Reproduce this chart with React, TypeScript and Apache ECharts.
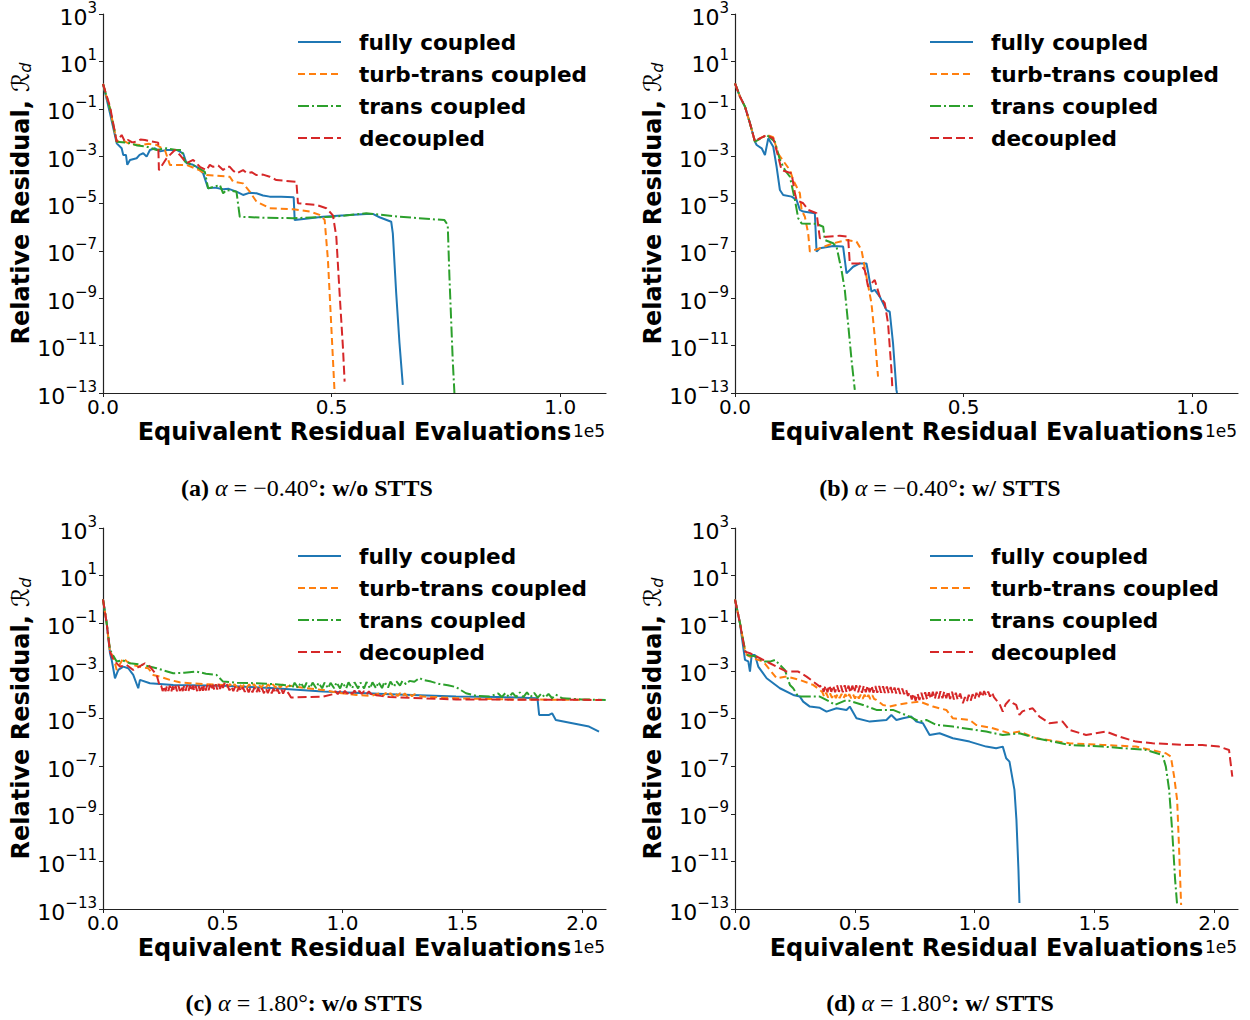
import React, { useEffect, useRef } from "react";
import * as echarts from "echarts";

// Residual histories: x = equivalent residual evaluations, y = log10 of relative residual R_d
const METHODS = ["fully coupled", "turb-trans coupled", "trans coupled", "decoupled"];
const COLORS = ["#1f77b4", "#ff7f0e", "#2ca02c", "#d62728"];
const DASHES: any[] = ["solid", [7, 4], [11, 3, 2, 3], [9, 4]];

const Y_TICKS = [-13, -11, -9, -7, -5, -3, -1, 1, 3];
const X_TICKS_SHORT = [0, 50000, 100000];
const X_TICKS_LONG = [0, 50000, 100000, 150000, 200000];

// (a) alpha = -0.40 deg, w/o STTS
const aFully = [[0,0.05],[1530,-1.19],[3000,-2.46],[4080,-2.67],[4430,-2.95],[5020,-2.95],[5310,-3.37],[5900,-3.16],[7360,-3.09],[8000,-2.95],[8800,-2.88],[9540,-3.02],[10260,-2.74],[11350,-2.67],[12500,-2.8],[13910,-2.74],[16090,-2.74],[17530,-2.88],[18270,-3.30],[19500,-3.35],[20460,-3.45],[21900,-3.73],[22990,-4.36],[24500,-4.33],[26270,-4.40],[27500,-4.38],[29190,-4.50],[30630,-4.64],[32000,-4.55],[33560,-4.57],[35000,-4.66],[36460,-4.71],[39000,-4.72],[41700,-4.74],[41920,-5.70],[48100,-5.56],[53000,-5.5],[57570,-5.44],[59010,-5.44],[60470,-5.58],[63030,-5.77],[63380,-6.26],[64120,-8.79],[64840,-10.9],[65560,-12.66]];
const aTurbTrans = [[0,0.05],[1530,-1.0],[3000,-2.39],[4430,-2.35],[6000,-2.5],[8080,-2.53],[10000,-2.48],[11720,-2.53],[13540,-2.74],[14630,-3.37],[18270,-3.37],[21180,-3.6],[22640,-3.80],[27730,-3.87],[28450,-4.08],[30630,-4.15],[32090,-4.5],[33560,-4.92],[36460,-5.2],[41550,-5.24],[45190,-5.34],[47370,-5.48],[48470,-5.69],[49190,-7.38],[49930,-10.2],[50650,-13.0]];
const aTrans = [[0,0.05],[1530,-1.0],[3000,-2.39],[5900,-2.45],[7500,-2.55],[9540,-2.6],[10630,-2.67],[11720,-2.74],[13910,-2.67],[16090,-2.74],[17180,-2.74],[17900,-3.23],[20460,-3.45],[22270,-3.66],[22990,-4.36],[25550,-4.22],[26270,-4.57],[27000,-4.43],[29190,-4.50],[29910,-5.56],[35000,-5.6],[41550,-5.62],[50280,-5.56],[57570,-5.41],[64840,-5.56],[74670,-5.70],[75390,-5.91],[75760,-8.09],[76480,-11.6],[76850,-13.0]];
const aDecoupled = [[0,0.05],[1530,-0.91],[3000,-2.39],[4080,-2.11],[4800,-2.39],[5520,-2.32],[6400,-2.42],[7360,-2.39],[8200,-2.3],[9170,-2.32],[10500,-2.38],[12070,-2.43],[12230,-3.59],[13910,-3.09],[15720,-2.74],[16810,-2.95],[18270,-3.30],[19720,-3.16],[21180,-3.45],[22640,-3.59],[23360,-3.37],[24080,-3.45],[25200,-3.4],[26270,-3.59],[27000,-3.45],[27730,-3.45],[28500,-3.62],[29190,-3.73],[30630,-3.59],[31500,-3.72],[32500,-3.68],[33560,-3.80],[35000,-3.78],[36460,-3.87],[37920,-4.01],[42290,-4.08],[42640,-4.99],[46660,-5.06],[48840,-5.20],[50280,-5.50],[51020,-6.40],[51740,-8.79],[52460,-11.04],[52840,-12.52]];

// (b) alpha = -0.40 deg, w/ STTS
const bFully = [[0,0.07],[1090,-0.49],[2180,-0.91],[3270,-1.61],[4370,-2.39],[4740,-2.53],[5830,-2.67],[6550,-2.95],[7270,-2.25],[8360,-2.6],[9100,-3.45],[9820,-4.43],[10540,-4.64],[12380,-4.71],[13470,-4.85],[14190,-5.27],[14910,-5.34],[17460,-5.41],[17840,-7.03],[18560,-6.89],[21460,-6.79],[23640,-6.82],[24390,-7.95],[25830,-7.67],[27290,-7.53],[28750,-7.53],[29100,-7.88],[29840,-8.72],[30560,-8.65],[31660,-8.93],[33120,-9.50],[33840,-9.57],[34560,-10.9],[35300,-12.87],[35430,-13.0]];
const bTurbTrans = [[0,0.07],[1090,-0.49],[2180,-0.91],[3270,-1.61],[4370,-2.39],[4740,-2.32],[6920,-2.11],[8360,-2.2],[9450,-2.9],[10920,-3.3],[12010,-3.59],[12730,-4.01],[14190,-4.57],[14560,-5.27],[15280,-5.56],[16000,-6.26],[16370,-7.03],[18560,-6.89],[21460,-6.68],[24390,-6.54],[26570,-6.61],[27660,-6.96],[28750,-8.09],[29840,-9.21],[30560,-10.62],[31280,-12.31]];
const bTrans = [[0,0.07],[1090,-0.49],[2180,-0.91],[3270,-1.61],[4370,-2.39],[6920,-2.11],[8730,-2.39],[9820,-3.16],[10920,-3.59],[12010,-3.87],[13100,-4.85],[13820,-5.62],[14560,-5.84],[17840,-5.86],[19280,-5.98],[19650,-6.54],[21460,-6.68],[22200,-6.82],[23290,-7.81],[24010,-8.65],[24730,-10.06],[25480,-11.6],[26200,-12.87]];
const bDecoupled = [[0,0.07],[1090,-0.49],[2180,-0.91],[3270,-1.61],[4370,-2.39],[4740,-2.32],[6920,-2.11],[8360,-2.25],[9450,-3.02],[10190,-3.59],[11290,-3.66],[12380,-3.73],[13100,-4.57],[13470,-4.85],[14910,-4.99],[16000,-5.27],[17840,-5.41],[18560,-6.47],[20020,-6.40],[22920,-6.36],[24730,-6.40],[25100,-7.53],[27290,-7.53],[28380,-7.81],[29100,-8.51],[30560,-8.23],[31660,-8.93],[32750,-9.21],[33470,-10.06],[34210,-12.03],[34430,-12.87]];

// (c) alpha = 1.80 deg, w/o STTS
const cFully = [[0,0],[1540,-1.0],[2920,-2.26],[3630,-2.54],[5000,-3.31],[6380,-2.96],[8460,-2.82],[10540,-2.89],[12630,-3.17],[14710,-3.73],[15420,-3.38],[19580,-3.52],[29290,-3.59],[50130,-3.62],[70000,-3.72],[91800,-3.87],[120000,-3.98],[147380,-4.08],[165000,-4.1],[181380,-4.15],[182090,-4.85],[186250,-4.85],[187500,-4.78],[189040,-5.06],[195960,-5.20],[202920,-5.34],[207090,-5.55]];
const cTurbTrans = [[0,0],[1540,-1.0],[2920,-2.2],[4290,-2.40],[5710,-2.96],[8460,-2.47],[9880,-2.6],[12630,-2.75],[15000,-2.82],[18880,-2.89],[20960,-3.17],[24000,-3.25],[27920,-3.38],[32000,-3.48],[36250,-3.52],[43000,-3.56],[50130,-3.59],[51000,-3.54],[52000,-3.68],[53000,-3.55],[54000,-3.69],[55000,-3.56],[56000,-3.7],[57000,-3.56],[58000,-3.7],[59000,-3.57],[60000,-3.71],[61000,-3.56],[62000,-3.7],[63000,-3.55],[64000,-3.69],[65000,-3.56],[66000,-3.7],[67000,-3.57],[68000,-3.7],[69000,-3.56],[70000,-3.7],[71000,-3.57],[72000,-3.71],[73000,-3.56],[74000,-3.7],[75000,-3.57],[76000,-3.7],[77900,-3.62],[84000,-3.72],[91800,-3.8],[98000,-3.92],[105700,-4.01],[112000,-4.05],[116000,-3.93],[117000,-4.05],[118000,-3.92],[119000,-4.05],[120000,-3.93],[121000,-4.06],[122000,-3.93],[123000,-4.06],[124000,-3.94],[125000,-4.06],[126000,-3.95],[127000,-4.07],[128000,-3.96],[129000,-4.07],[130000,-3.98],[133470,-4.08],[147380,-4.15],[170000,-4.2],[209600,-4.22]];
const cTrans = [[0,0],[1540,-1.0],[2920,-2.12],[5710,-2.61],[8000,-2.55],[11250,-2.68],[16790,-2.75],[22380,-2.89],[29290,-3.10],[34000,-3.08],[39040,-3.03],[43000,-3.12],[47380,-3.17],[50130,-3.45],[56000,-3.5],[64050,-3.52],[72000,-3.56],[77920,-3.62],[79000,-3.72],[80000,-3.5],[81500,-3.72],[82500,-3.49],[84000,-3.72],[85000,-3.5],[86500,-3.72],[87500,-3.49],[89000,-3.73],[90000,-3.5],[91500,-3.73],[92500,-3.49],[94000,-3.73],[95000,-3.5],[96500,-3.73],[97500,-3.48],[99000,-3.74],[100000,-3.49],[101500,-3.74],[102500,-3.48],[104000,-3.74],[105000,-3.48],[106500,-3.74],[107500,-3.49],[109000,-3.74],[110000,-3.47],[111500,-3.74],[112500,-3.48],[114000,-3.73],[115000,-3.47],[116500,-3.72],[117500,-3.46],[119000,-3.7],[120000,-3.45],[121500,-3.67],[122500,-3.44],[124000,-3.62],[125000,-3.42],[126500,-3.56],[128000,-3.42],[130000,-3.46],[132090,-3.3],[133470,-3.38],[137000,-3.45],[140420,-3.55],[144000,-3.6],[147380,-3.68],[151540,-3.94],[156000,-4.05],[161250,-4.08],[165000,-3.95],[166500,-4.1],[168000,-3.93],[169500,-4.1],[171000,-3.92],[172500,-4.1],[174000,-3.9],[175500,-4.1],[177000,-3.9],[178500,-4.1],[180000,-3.92],[181500,-4.12],[183000,-3.95],[184500,-4.12],[186000,-3.97],[187500,-4.15],[189000,-4.0],[191790,-4.15],[200000,-4.2],[209880,-4.22]];
const cDecoupled = [[0,0],[1540,-1.0],[2920,-2.19],[4290,-2.54],[7080,-2.82],[9880,-2.75],[12630,-2.96],[17500,-2.68],[19580,-2.82],[22380,-3.17],[23750,-3.66],[24300,-3.62],[24900,-3.85],[25500,-3.63],[26100,-3.86],[26700,-3.64],[27300,-3.84],[27900,-3.62],[28500,-3.87],[29100,-3.65],[29700,-3.85],[30300,-3.63],[30900,-3.86],[31500,-3.62],[32100,-3.84],[32700,-3.64],[33300,-3.85],[33900,-3.62],[34500,-3.83],[35100,-3.6],[35700,-3.84],[36300,-3.62],[36900,-3.85],[37500,-3.61],[38100,-3.84],[38700,-3.63],[39300,-3.85],[39900,-3.62],[40500,-3.84],[41100,-3.6],[41700,-3.83],[42300,-3.6],[42900,-3.82],[43500,-3.59],[44100,-3.81],[44700,-3.58],[45300,-3.8],[45900,-3.58],[46500,-3.8],[47100,-3.56],[47700,-3.78],[48300,-3.55],[48900,-3.76],[49500,-3.52],[50100,-3.72],[51000,-3.45],[52000,-3.62],[52800,-3.82],[53600,-3.65],[54400,-3.85],[55200,-3.66],[56000,-3.86],[56800,-3.67],[57600,-3.87],[58400,-3.68],[59200,-3.88],[60000,-3.7],[60800,-3.9],[61600,-3.7],[62400,-3.9],[63200,-3.7],[64000,-3.92],[64800,-3.72],[65600,-3.92],[66400,-3.74],[67200,-3.94],[68000,-3.73],[68800,-3.93],[69600,-3.74],[70400,-3.94],[71200,-3.75],[72000,-3.94],[72800,-3.76],[73600,-3.95],[74400,-3.76],[75200,-3.95],[76000,-3.77],[77500,-3.95],[78500,-4.12],[85000,-4.1],[91800,-4.08],[96000,-3.98],[97000,-3.85],[98000,-3.98],[99000,-3.85],[100000,-3.98],[101000,-3.84],[102000,-3.97],[103000,-3.84],[104000,-3.97],[105000,-3.83],[106000,-3.97],[107000,-3.84],[108000,-3.97],[109000,-3.85],[110000,-3.98],[111000,-3.86],[112000,-3.99],[113000,-3.9],[114000,-4.02],[116000,-4.05],[119600,-4.1],[133500,-4.15],[147400,-4.2],[208300,-4.22]];

// (d) alpha = 1.80 deg, w/ STTS
const dFully = [[0,0],[2080,-1.0],[4170,-2.54],[5540,-2.6],[6250,-3.03],[6960,-2.33],[8330,-2.33],[9710,-2.82],[13210,-3.31],[18750,-3.73],[24290,-4.01],[27090,-4.08],[28460,-4.29],[31250,-4.50],[35420,-4.55],[38210,-4.71],[42380,-4.57],[46550,-4.64],[47920,-4.50],[50710,-4.99],[56250,-5.13],[63210,-5.06],[65290,-4.85],[67380,-5.06],[70130,-4.99],[73630,-4.92],[75710,-5.13],[78460,-5.20],[81250,-5.69],[85420,-5.62],[90960,-5.83],[97920,-5.97],[104880,-6.18],[109040,-6.25],[111800,-6.18],[113210,-6.67],[114590,-6.81],[116670,-8.0],[117500,-9.26],[118340,-11.36],[118750,-12.75]];
const dTurbTrans = [[0,0],[2080,-1.0],[4170,-2.12],[4880,-2.33],[7630,-2.47],[11790,-2.61],[14580,-2.96],[17380,-3.31],[21540,-3.24],[27090,-3.38],[32630,-3.59],[35420,-3.80],[36500,-3.9],[37300,-4.1],[38100,-3.92],[38900,-4.12],[39700,-3.95],[40500,-4.13],[41300,-3.96],[42100,-4.14],[42900,-3.96],[43700,-4.14],[44500,-3.97],[45300,-4.15],[46100,-3.98],[46900,-4.15],[47700,-3.98],[48500,-4.15],[49300,-3.99],[50100,-4.16],[50900,-3.99],[51700,-4.16],[52500,-4.0],[53300,-4.17],[54100,-4.0],[54900,-4.17],[55700,-4.01],[56500,-4.18],[57300,-4.02],[58100,-4.18],[59040,-4.22],[61790,-4.43],[64590,-4.50],[67380,-4.43],[71540,-4.36],[77090,-4.29],[82630,-4.50],[88210,-4.64],[90960,-4.99],[97920,-5.06],[100710,-5.27],[107630,-5.41],[114590,-5.62],[118750,-5.55],[125710,-5.83],[139590,-6.04],[153460,-6.11],[167380,-6.18],[179880,-6.46],[181960,-6.60],[183340,-7.44],[184590,-8.42],[185420,-10.52],[186250,-12.83]];
const dTrans = [[0,0],[2080,-1.0],[4170,-2.12],[4880,-2.33],[9040,-2.40],[11790,-2.61],[14580,-2.61],[16670,-2.54],[18750,-2.75],[20830,-2.96],[22920,-3.59],[24290,-3.73],[26380,-4.08],[35420,-4.08],[39590,-4.29],[41670,-4.43],[46550,-4.22],[53460,-4.43],[59040,-4.64],[65960,-4.64],[72920,-4.92],[77090,-5.13],[79880,-5.06],[84050,-5.27],[90960,-5.34],[104880,-5.55],[111800,-5.69],[118750,-5.62],[125710,-5.83],[139590,-6.11],[153460,-6.18],[171540,-6.32],[178460,-6.53],[179880,-7.02],[181250,-8.0],[182500,-9.68],[183750,-11.78],[184590,-12.83]];
const dDecoupled = [[0,0],[2080,-1.0],[4170,-2.19],[6250,-2.26],[10420,-2.47],[14580,-2.68],[21540,-3.03],[26380,-3.03],[29880,-3.24],[35420,-3.66],[36200,-3.6],[37000,-3.88],[37800,-3.62],[38600,-3.9],[39400,-3.6],[40200,-3.88],[41000,-3.62],[41800,-3.9],[42600,-3.6],[43400,-3.88],[44200,-3.62],[45000,-3.9],[45800,-3.6],[46600,-3.9],[47400,-3.62],[48200,-3.92],[49000,-3.62],[49800,-3.9],[50600,-3.6],[51400,-3.9],[52200,-3.62],[53000,-3.92],[53800,-3.62],[54600,-3.9],[55400,-3.61],[56200,-3.9],[57000,-3.62],[57800,-3.92],[58600,-3.64],[59400,-3.92],[60200,-3.64],[61000,-3.92],[61800,-3.65],[62600,-3.93],[63400,-3.66],[64200,-3.94],[65000,-3.68],[65800,-3.95],[66600,-3.7],[67400,-3.96],[68200,-3.72],[69000,-3.97],[69800,-3.74],[70600,-3.98],[71400,-3.78],[72200,-4.05],[73000,-3.9],[73800,-4.2],[74600,-3.95],[75400,-4.25],[76200,-3.95],[77000,-4.22],[77800,-3.92],[78600,-4.2],[79400,-3.9],[80200,-4.2],[81000,-3.9],[81800,-4.18],[82600,-3.88],[83400,-4.18],[84200,-3.88],[85000,-4.16],[85800,-3.86],[86600,-4.15],[87400,-3.86],[88200,-4.15],[89000,-3.85],[89800,-4.18],[90600,-3.88],[91400,-4.2],[92200,-3.92],[93000,-4.22],[94000,-3.95],[95130,-4.36],[96000,-4.1],[96800,-4.3],[97600,-4.0],[98400,-4.25],[99200,-3.98],[100000,-4.2],[100800,-3.92],[101600,-4.15],[102400,-3.88],[103200,-4.1],[104000,-3.85],[104880,-4.05],[105700,-3.87],[106500,-4.08],[107300,-3.9],[108100,-4.1],[109040,-4.22],[110500,-4.4],[111800,-4.71],[113000,-4.4],[114590,-4.22],[116000,-4.35],[117380,-4.43],[118750,-4.85],[120000,-4.7],[121540,-4.64],[124290,-4.57],[127090,-4.92],[131250,-5.20],[136790,-5.13],[139590,-5.48],[146550,-5.69],[154880,-5.55],[160420,-5.76],[167380,-5.97],[174340,-6.04],[188210,-6.11],[195130,-6.11],[202090,-6.18],[206250,-6.32],[207630,-7.44]];

const PANELS = [
  { series: [aFully, aTurbTrans, aTrans, aDecoupled], xMax: 110000, xTicks: X_TICKS_SHORT },
  { series: [bFully, bTurbTrans, bTrans, bDecoupled], xMax: 110000, xTicks: X_TICKS_SHORT },
  { series: [cFully, cTurbTrans, cTrans, cDecoupled], xMax: 210000, xTicks: X_TICKS_LONG },
  { series: [dFully, dTurbTrans, dTrans, dDecoupled], xMax: 210000, xTicks: X_TICKS_LONG },
];

const CAPTIONS = [
  ["(a)", "−0.40°", "w/o STTS"],
  ["(b)", "−0.40°", "w/ STTS"],
  ["(c)", "1.80°", "w/o STTS"],
  ["(d)", "1.80°", "w/ STTS"],
];

const SANS = "DejaVu Sans";
const SERIF = "Liberation Serif";

// Subplot geometry
const GRIDS = [
  { left: 103, top: 14, width: 503, height: 379 },
  { left: 735, top: 14, width: 503, height: 379 },
  { left: 103, top: 528, width: 503, height: 381 },
  { left: 735, top: 528, width: 503, height: 381 },
];
const CAPTION_POS = [
  [307, 488],
  [940, 488],
  [304, 1003],
  [940, 1003],
];

function buildOption() {
  const grid = GRIDS.map((g) => ({ ...g, containLabel: false }));
  const xAxis = PANELS.map((p, i) => ({
    type: "value",
    gridIndex: i,
    min: 0,
    max: p.xMax,
    name: "Equivalent Residual Evaluations",
    nameLocation: "middle",
    nameGap: 27,
    nameTextStyle: { fontFamily: SANS, fontSize: 24, fontWeight: "bold", color: "#000" },
    axisLine: { show: true, onZero: false, lineStyle: { color: "#222", width: 1.2 } },
    axisTick: { show: true, inside: false, length: 4, customValues: p.xTicks, lineStyle: { color: "#222" } },
    axisLabel: {
      customValues: p.xTicks,
      margin: 4,
      fontFamily: SANS,
      fontSize: 20,
      color: "#000",
      formatter: (v: number) => (v / 1e5).toFixed(1),
    },
    splitLine: { show: false },
  }));
  const yAxis = PANELS.map((_, i) => ({
    type: "value",
    gridIndex: i,
    min: -13,
    max: 3,
    interval: 2,
    name: "{b|Relative Residual, }{r|ℛ}{d|d}",
    nameLocation: "middle",
    nameRotate: 90,
    nameGap: 66,
    nameTextStyle: {
      rich: {
        b: { fontFamily: SANS, fontSize: 24, fontWeight: "bold", color: "#000" },
        r: { fontFamily: SANS, fontSize: 24, color: "#000" },
        d: { fontFamily: SANS, fontSize: 16, fontStyle: "italic", color: "#000", verticalAlign: "bottom" },
      },
    },
    axisLine: { show: true, onZero: false, lineStyle: { color: "#222", width: 1.2 } },
    axisTick: { show: true, inside: false, length: 4, customValues: Y_TICKS, lineStyle: { color: "#222" } },
    axisLabel: {
      customValues: Y_TICKS,
      margin: 6,
      formatter: (v: number) => `{b|10}{s|${v < 0 ? "−" + Math.abs(v) : v}}`,
      rich: {
        b: { fontFamily: SANS, fontSize: 22, color: "#000", lineHeight: 28, verticalAlign: "bottom" },
        s: { fontFamily: SANS, fontSize: 15, color: "#000", lineHeight: 20, verticalAlign: "top" },
      },
    },
    splitLine: { show: false },
  }));

  const series: any[] = [];
  PANELS.forEach((p, i) => {
    p.series.forEach((data, m) => {
      series.push({
        type: "line",
        name: METHODS[m],
        xAxisIndex: i,
        yAxisIndex: i,
        data,
        symbol: "none",
        showSymbol: false,
        smooth: false,
        lineStyle: { color: COLORS[m], width: 2, type: DASHES[m] },
        itemStyle: { color: COLORS[m] },
        emphasis: { disabled: true },
        z: 2 + m,
      });
    });
  });

  const legend = GRIDS.map((g) => ({
    orient: "vertical",
    left: g.left + 194,
    top: g.top + 17,
    padding: 0,
    itemWidth: 43,
    itemHeight: 22,
    itemGap: 10,
    selectedMode: false,
    data: METHODS,
    itemStyle: { opacity: 0 },
    lineStyle: { width: 2 },
    textStyle: {
      fontFamily: SANS,
      fontSize: 21.6,
      fontWeight: "bold",
      color: "#000",
      lineHeight: 22,
      padding: [0, 0, 0, 13],
    },
  }));

  const graphic: any[] = [];
  GRIDS.forEach((g, i) => {
    // scale multiplier shown at the end of the x axis
    graphic.push({
      type: "text",
      left: g.left + g.width - 33,
      top: g.top + g.height + 29,
      style: { text: "1e5", font: `17px '${SANS}'`, fill: "#000" },
    });
    const [cx, cy] = CAPTION_POS[i];
    const [tag, angle, mode] = CAPTIONS[i];
    graphic.push({
      type: "text",
      x: cx,
      y: cy,
      style: {
        text: `{b|${tag} }{i|α}{r| = ${angle}}{b|: ${mode}}`,
        align: "center",
        verticalAlign: "middle",
        rich: {
          b: { fontFamily: SERIF, fontSize: 24, fontWeight: "bold", fill: "#000" },
          i: { fontFamily: SERIF, fontSize: 24, fontStyle: "italic", fill: "#000" },
          r: { fontFamily: SERIF, fontSize: 24, fill: "#000" },
        },
      },
    });
  });

  return {
    animation: false,
    backgroundColor: "#fff",
    grid,
    xAxis,
    yAxis,
    legend,
    series,
    graphic,
  };
}

export default function App() {
  const ref = useRef<HTMLDivElement>(null);
  useEffect(() => {
    if (!ref.current) return;
    const chart = echarts.init(ref.current, undefined, { renderer: "svg" });
    chart.setOption(buildOption() as any);
    return () => chart.dispose();
  }, []);
  return (
    <div
      ref={ref}
      style={{ position: "absolute", left: 0, top: 0, width: 1250, height: 1020, background: "#fff" }}
    />
  );
}
